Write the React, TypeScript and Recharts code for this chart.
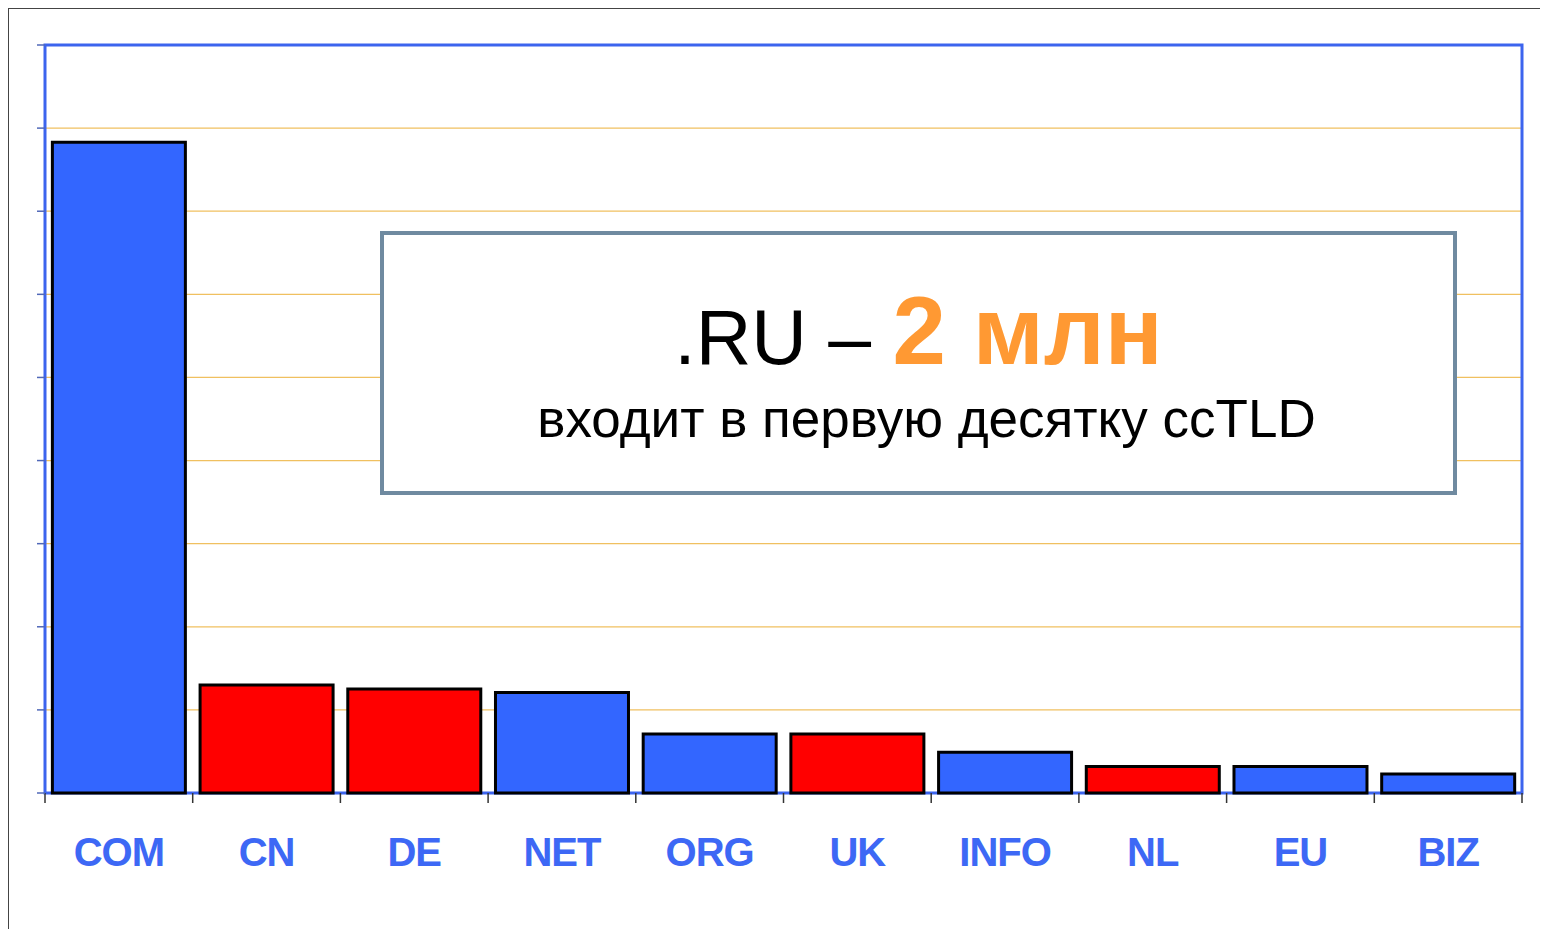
import { BarChart, Bar, Cell, XAxis, YAxis, CartesianGrid, ReferenceArea } from "recharts"

// domain registrations, millions
const zones = ["COM", "CN", "DE", "NET", "ORG", "UK", "INFO", "NL", "EU", "BIZ"]
const registrations = [78.3, 13.0, 12.5, 12.1, 7.1, 7.1, 4.9, 3.2, 3.2, 2.3]
const isCountryCode = [false, true, true, false, false, true, false, true, false, false]
const yTicks = [0, 10, 20, 30, 40, 50, 60, 70, 80, 90]
const edgeTicks = [0, 1, 2, 3, 4, 5, 6, 7, 8, 9, 10]

const BLUE = "#3366ff"
const RED = "#ff0000"
const FRAME = "#3c64ee"

const ZoneTick = (props: any) => {
  const { x, y, payload } = props
  return (
    <text
      x={x}
      y={y + 61}
      textAnchor="middle"
      fill="#3d68f5"
      fontFamily="'Liberation Sans', Arial, sans-serif"
      fontWeight="bold"
      fontSize={40}
      letterSpacing={-1}
    >
      {payload.value}
    </text>
  )
}

export default function App() {
  const data = zones.map((name, i) => ({ name, idx: i + 0.5, value: registrations[i] }))

  return (
    <div
      style={{
        position: "relative",
        width: 1539,
        height: 920,
        borderLeft: "1px solid #444",
        borderTop: "1px solid #444",
        background: "#fff",
        fontFamily: "'Liberation Sans', Arial, sans-serif",
      }}
    >
      <BarChart
        width={1539}
        height={920}
        data={data}
        margin={{ top: 36, right: 26, bottom: 64, left: 28 }}
        barCategoryGap="5%"
      >
        <CartesianGrid xAxisId="b" vertical={false} stroke="#f0c060" strokeWidth={1.2} />
        <XAxis
          xAxisId="a"
          type="number"
          dataKey="idx"
          domain={[0, 10]}
          ticks={edgeTicks}
          axisLine={false}
          tickLine={{ stroke: "#333", strokeWidth: 1.5 }}
          tickSize={10}
          tickFormatter={() => ""}
          height={12}
        />
        <XAxis
          xAxisId="b"
          dataKey="name"
          axisLine={false}
          tickLine={false}
          tickSize={0}
          tickMargin={0}
          tick={<ZoneTick />}
          interval={0}
          height={60}
        />
        <YAxis
          domain={[0, 90]}
          ticks={yTicks}
          width={8}
          axisLine={false}
          tickLine={{ stroke: "#5068b8", strokeWidth: 1.5 }}
          tickSize={8}
          tickFormatter={() => ""}
        />
        <Bar dataKey="value" xAxisId="b" stroke="#000" strokeWidth={3} isAnimationActive={false}>
          {data.map((d, i) => (
            <Cell key={d.name} fill={isCountryCode[i] ? RED : BLUE} />
          ))}
        </Bar>
        <ReferenceArea xAxisId="a" x1={0} x2={10} y1={0} y2={90} fill="none" stroke={FRAME} strokeWidth={3} />
      </BarChart>

      <div
        style={{
          position: "absolute",
          left: 371,
          top: 222,
          width: 1077,
          height: 264,
          boxSizing: "border-box",
          border: "4px solid #6f8aa0",
          background: "#fff",
        }}
      >
        <div
          style={{
            position: "absolute",
            left: 0,
            right: 0,
            top: 57,
            height: 77,
            textAlign: "center",
            fontSize: 77,
            lineHeight: "77px",
            color: "#000",
            whiteSpace: "nowrap",
          }}
        >
          .RU – <span style={{ color: "#ff9933", fontWeight: "bold", fontSize: 96 }}>2 млн</span>
        </div>
        <div
          style={{
            position: "absolute",
            left: 16,
            right: 0,
            top: 157,
            textAlign: "center",
            fontSize: 53,
            lineHeight: 1,
            color: "#000",
            whiteSpace: "nowrap",
          }}
        >
          входит в первую десятку ccTLD
        </div>
      </div>
    </div>
  )
}
